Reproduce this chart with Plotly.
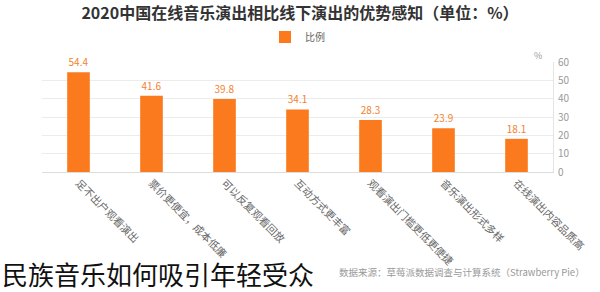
import plotly.graph_objects as go

categories = ["足不出户观看演出", "票价更便宜，成本低廉", "可以反复观看回放", "互动方式更丰富",
              "观看演出门槛更低更便捷", "音乐演出形式多样", "在线演出内容品质高"]
values = [54.4, 41.6, 39.8, 34.1, 28.3, 23.9, 18.1]
y_ticks = [0, 10, 20, 30, 40, 50, 60]

W, H = 600, 292
L, R, T, B = 42, 45, 62, 120
pw, ph = W - L - R, H - T - B

def px(x):
    return (x - L) / pw

def py(y):
    return (H - B - y) / ph

FONT = "Noto Sans CJK SC"
ORANGE = "#fb7a1d"

fig = go.Figure()
fig.add_trace(go.Bar(
    x=categories, y=values, name="比例",
    marker=dict(color=ORANGE, line=dict(width=0)),
    width=0.31,
    text=[f"{v:.1f}" for v in values], textposition="outside",
    textfont=dict(color="#f2822e", size=10, family=FONT),
    cliponaxis=False,
))

fig.update_layout(
    width=W, height=H,
    margin=dict(l=L, r=R, t=T, b=B),
    paper_bgcolor="white", plot_bgcolor="white",
    font=dict(family=FONT, color="#666"),
    title=dict(text="<b>2020中国在线音乐演出相比线下演出的优势感知（单位：%）</b>",
               x=0.5, xanchor="center", y=1 - 13 / H, yanchor="middle", yref="container",
               font=dict(size=16, color="#333", family=FONT)),
    showlegend=True,
    legend=dict(orientation="h", x=0.5, xanchor="center", y=py(37), yanchor="middle",
                font=dict(size=10, color="#666"), itemwidth=30, bgcolor="rgba(0,0,0,0)"),
    xaxis=dict(showgrid=False, showline=True, linecolor="#ddd", ticks="",
               tickangle=45, tickfont=dict(size=10.5, color="#666")),
    yaxis=dict(side="right", range=[0, 60], tickvals=y_ticks, showgrid=True, gridcolor="#ececec",
               zeroline=False, showline=True, linecolor="#e4e4e4",
               tickfont=dict(size=10, color="#999"), ticklabelstandoff=2),
    bargap=0.69,
)

fig.add_annotation(text="%", xref="paper", yref="paper", x=px(546), y=py(47),
                   showarrow=False, font=dict(size=9, color="#999"))
fig.add_annotation(text="民族音乐如何吸引年轻受众", xref="paper", yref="paper",
                   x=px(0), xanchor="left", y=py(273), yanchor="middle",
                   showarrow=False, font=dict(size=26, color="#111", family=FONT))
fig.add_annotation(text="数据来源：草莓派数据调查与计算系统（Strawberry Pie）", xref="paper", yref="paper",
                   x=px(589), xanchor="right", y=py(272), yanchor="middle",
                   showarrow=False, font=dict(size=9.5, color="#999", family=FONT))

fig.write_html("out.html")
